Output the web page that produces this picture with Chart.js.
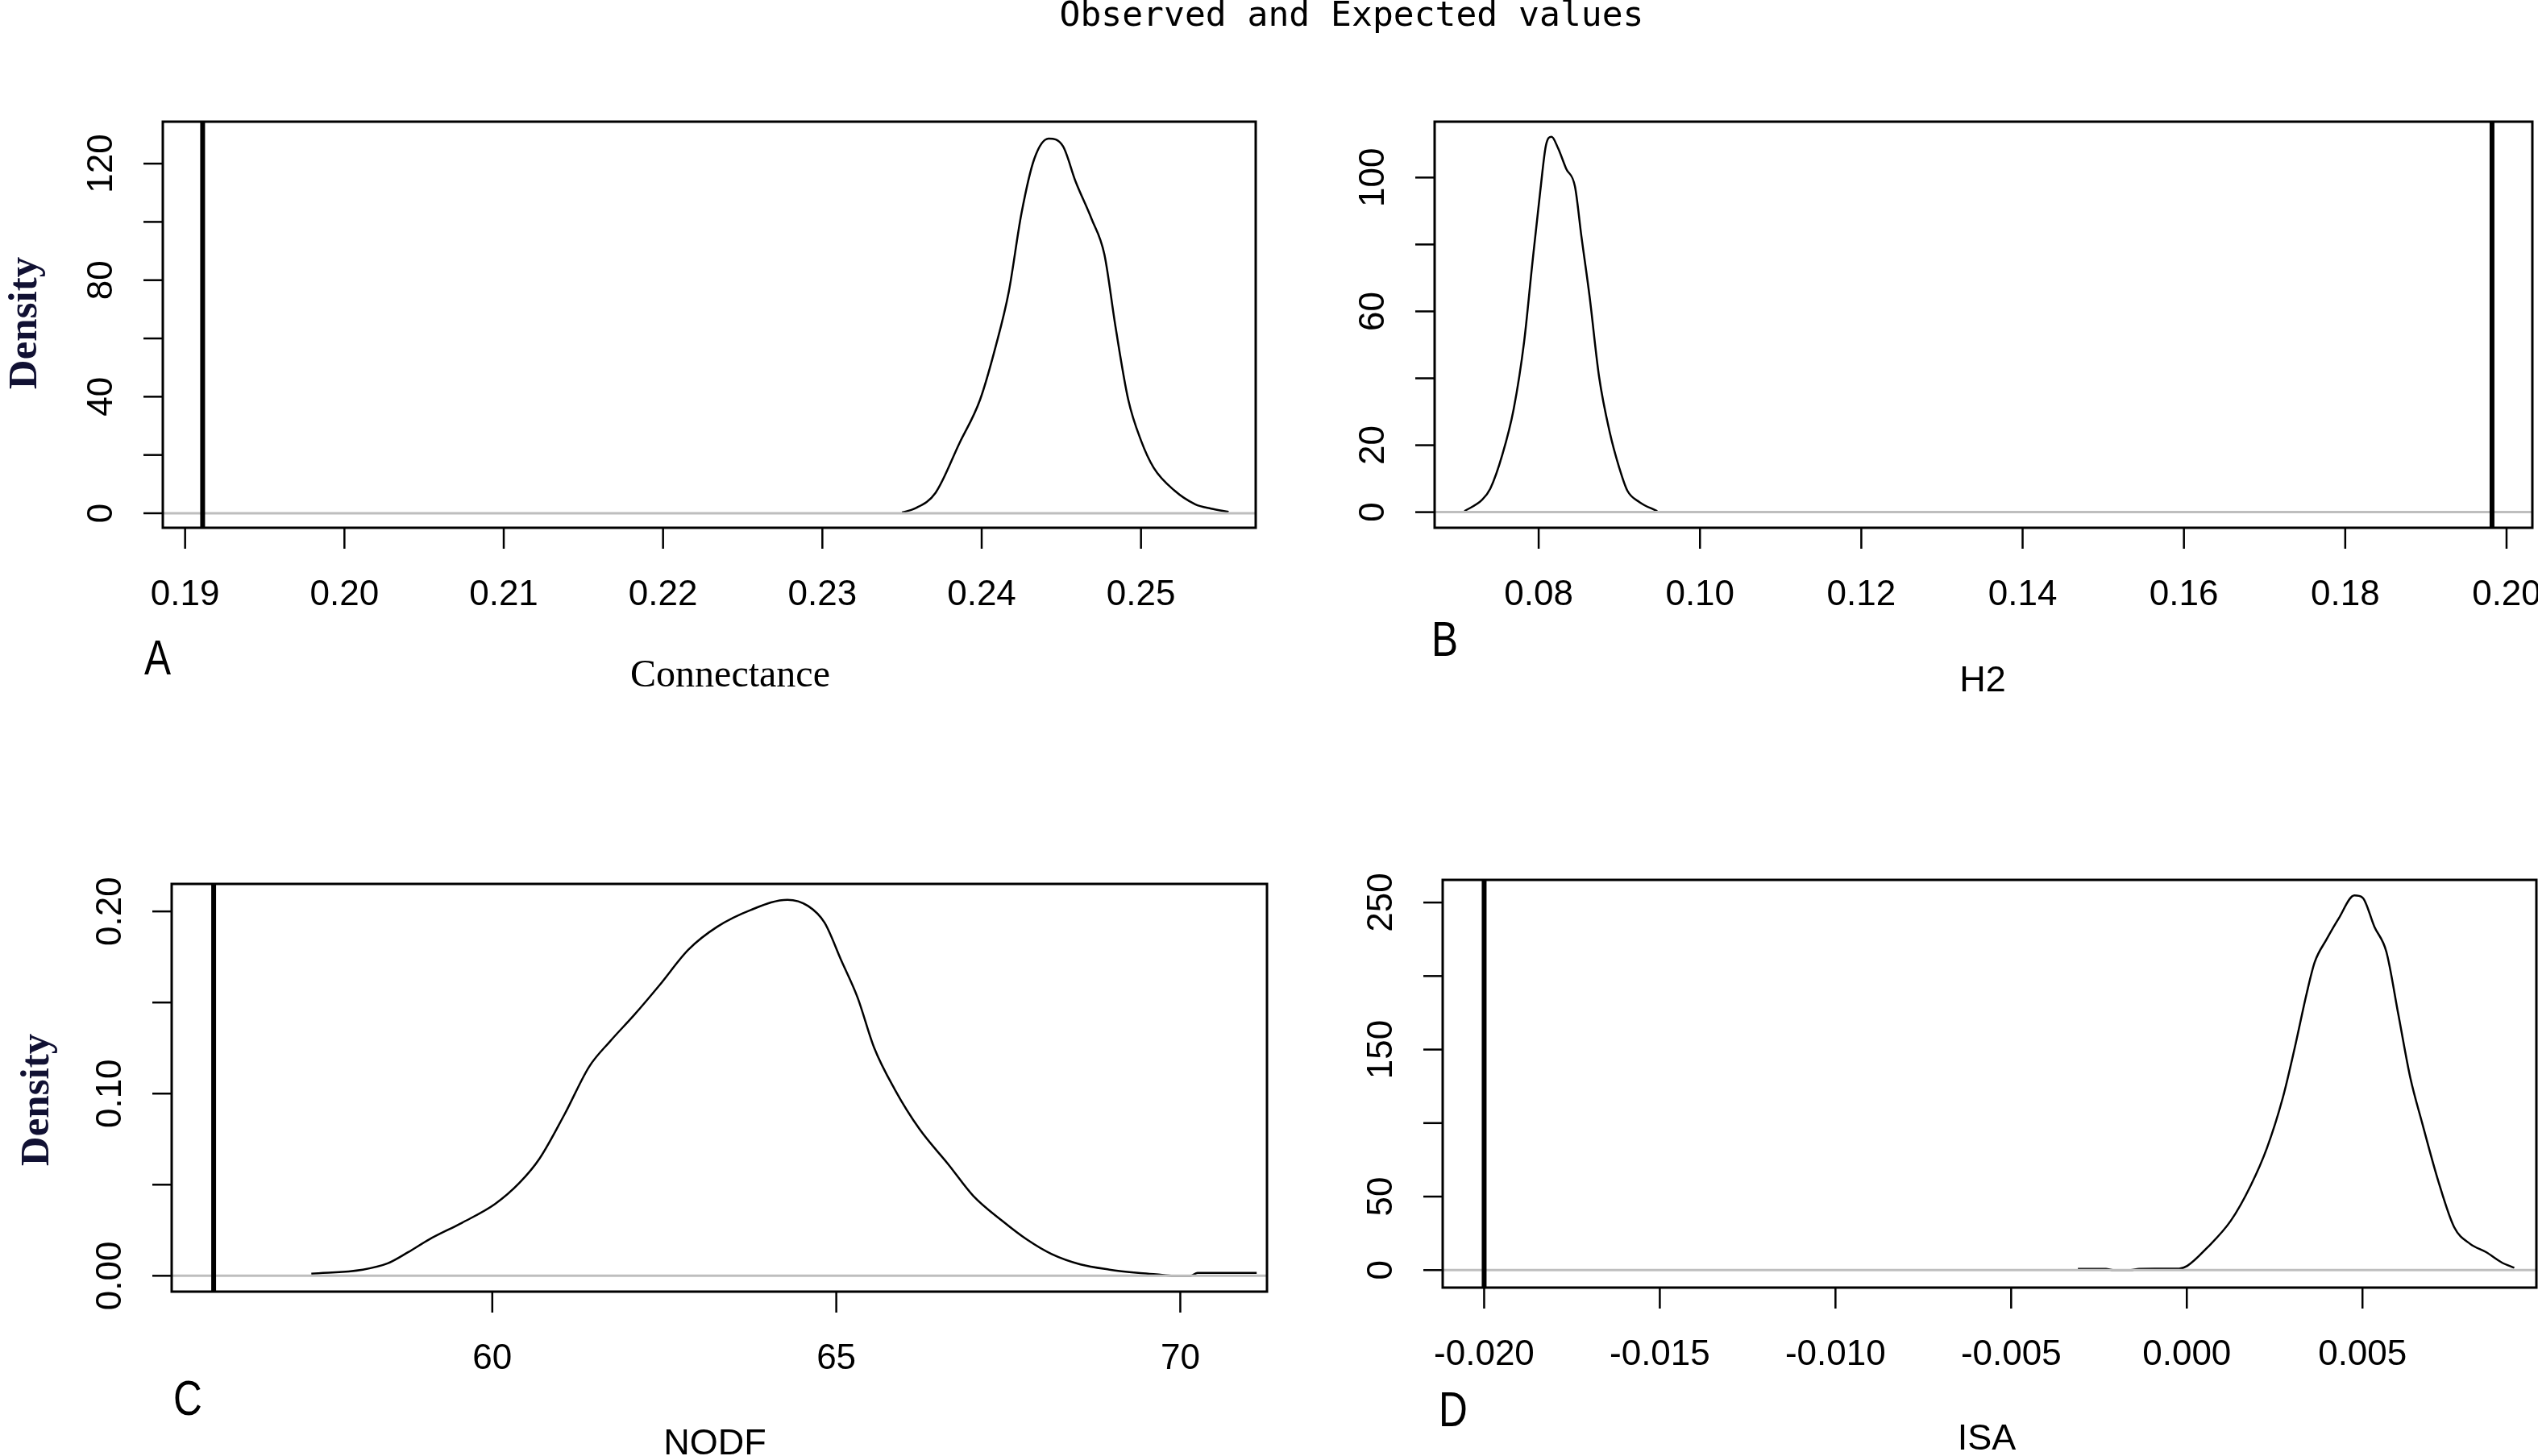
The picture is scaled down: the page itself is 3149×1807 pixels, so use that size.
<!DOCTYPE html>
<html>
<head>
<meta charset="utf-8">
<script src="https://cdn.jsdelivr.net/npm/chart.js@4.4.1/dist/chart.umd.min.js"></script>
<style>
  html, body { margin: 0; padding: 0; background: #fff; }
  #wrap { position: relative; width: 3149px; height: 1807px; overflow: hidden; background: #fff; }
  canvas { position: absolute; left: 0; top: 0; }
</style>
</head>
<body>
<div id="wrap">
  <canvas id="cA" width="3149" height="1807"></canvas>
  <canvas id="cB" width="3149" height="1807"></canvas>
  <canvas id="cC" width="3149" height="1807"></canvas>
  <canvas id="cD" width="3149" height="1807"></canvas>
</div>
<script>

// A - Connectance
const connX = [0.2350, 0.2358, 0.2371, 0.2386, 0.2399, 0.2409, 0.2417, 0.2425, 0.2433, 0.2442, 0.2451,
               0.2459, 0.2469, 0.2477, 0.2484, 0.2492, 0.2500, 0.2508, 0.2521, 0.2534, 0.2544, 0.2555];
const connY = [0.3, 1.6, 7, 24, 39, 57.7, 76, 103, 121.6, 128.6, 126,
               113.8, 101, 88.9, 64, 39, 25, 15.6, 7.8, 3.1, 1.6, 0.5];
const connObs = 0.1911;
const connXTicks = [0.19, 0.20, 0.21, 0.22, 0.23, 0.24, 0.25];
const connXLabels = ['0.19', '0.20', '0.21', '0.22', '0.23', '0.24', '0.25'];
const connYTicks = [0, 20, 40, 60, 80, 100, 120];
const connYLabels = ['0', '', '40', '', '80', '', '120'];

// B - H2
const h2X = [0.0708, 0.0730, 0.0740, 0.0755, 0.0769, 0.0782, 0.0792, 0.0802, 0.0809, 0.0816, 0.0824,
             0.0834, 0.0845, 0.0853, 0.0863, 0.0875, 0.0888, 0.0900, 0.0910, 0.0925, 0.0947];
const h2Y = [0.3, 3.7, 7, 17.2, 30.8, 51, 74, 96, 109.6, 112.2, 108.8,
             102.7, 97.3, 82.4, 64.7, 40.3, 24, 13.2, 6.4, 3, 0.3];
const h2Obs = 0.1982;
const h2XTicks = [0.08, 0.10, 0.12, 0.14, 0.16, 0.18, 0.20];
const h2XLabels = ['0.08', '0.10', '0.12', '0.14', '0.16', '0.18', '0.20'];
const h2YTicks = [0, 20, 40, 60, 80, 100];
const h2YLabels = ['0', '20', '', '60', '', '100'];

// C - NODF
const nodfX = [57.37, 58.12, 58.48, 58.78, 59.08, 59.56, 60.04, 60.39, 60.69, 61.05, 61.41, 61.71, 62.07,
               62.43, 62.85, 63.27, 63.75, 64.29, 64.59, 64.83, 65.07, 65.31, 65.55, 65.85, 66.21,
               66.63, 66.99, 67.41, 67.77, 68.13, 68.55, 68.97, 69.39, 69.65, 69.90, 70.15, 70.25, 71.11];
const nodfY = [0.0011, 0.0034, 0.0068, 0.0130, 0.0199, 0.0291, 0.0394, 0.0508, 0.0645, 0.0886, 0.1149, 0.1286, 0.1435,
               0.1595, 0.1790, 0.1916, 0.2007, 0.2064, 0.2030, 0.1938, 0.1733, 0.1527, 0.1252, 0.1023, 0.0805,
               0.0611, 0.0439, 0.0302, 0.0199, 0.0119, 0.0062, 0.0034, 0.0016, 0.0008, 0, 0, 0.0016, 0.0016];
const nodfObs = 55.95;
const nodfXTicks = [60, 65, 70];
const nodfXLabels = ['60', '65', '70'];
const nodfYTicks = [0, 0.05, 0.10, 0.15, 0.20];
const nodfYLabels = ['0.00', '', '0.10', '', '0.20'];

// D - ISA
const isaX = [-0.0031, -0.0023, -0.0021, -0.0016, -0.00136, -0.00022, 0.00001, 0.00057, 0.00125, 0.00182,
              0.00228, 0.00273, 0.00307, 0.00341, 0.00364, 0.00398, 0.00432, 0.00477, 0.0050, 0.00534,
              0.00568, 0.00602, 0.00636, 0.0067, 0.00716, 0.00761, 0.00806, 0.00852, 0.00897, 0.00932];
const isaY = [0.9, 0.9, 0, 0, 0.9, 1, 2.8, 15, 33.5, 57.6,
              83, 117, 151, 188, 209.4, 225, 239, 254.8, 253.4, 233.5,
              216.5, 174, 131, 100, 60.4, 29.2, 17.9, 12.2, 5.1, 1.6];
const isaObs = -0.0200;
const isaXTicks = [-0.020, -0.015, -0.010, -0.005, 0.000, 0.005];
const isaXLabels = ['-0.020', '-0.015', '-0.010', '-0.005', '0.000', '0.005'];
const isaYTicks = [0, 50, 100, 150, 200, 250];
const isaYLabels = ['0', '50', '', '150', '', '250'];

const W = 3149, H = 1807;
const SANS = '"Liberation Sans", Arial, sans-serif';
const SERIF = '"Liberation Serif", "Times New Roman", serif';

const panels = [
  { id: 'cA', box: [202, 151, 1558, 655], xr: [0.1886, 0.2572], yr: [-4.98, 134.4],
    xs: connX, ys: connY, obs: connObs,
    xTicks: connXTicks, xLabels: connXLabels, yTicks: connYTicks, yLabels: connYLabels,
    name: 'Connectance', nameFont: '48px ' + SERIF, namePos: [906, 852],
    letter: 'A', letterPos: [179, 837], density: [45, 401], mainTitle: true },
  { id: 'cB', box: [1780, 151, 3142, 655], xr: [0.0671, 0.2032], yr: [-4.67, 116.7],
    xs: h2X, ys: h2Y, obs: h2Obs,
    xTicks: h2XTicks, xLabels: h2XLabels, yTicks: h2YTicks, yLabels: h2YLabels,
    name: 'H2', nameFont: '45px ' + SANS, namePos: [2460, 858],
    letter: 'B', letterPos: [1776, 814] },
  { id: 'cC', box: [213, 1097, 1572, 1603], xr: [55.34, 71.26], yr: [-0.0087, 0.2151],
    xs: nodfX, ys: nodfY, obs: nodfObs,
    xTicks: nodfXTicks, xLabels: nodfXLabels, yTicks: nodfYTicks, yLabels: nodfYLabels,
    name: 'NODF', nameFont: '45px ' + SANS, namePos: [887, 1805],
    letter: 'C', letterPos: [215, 1756], density: [60, 1365] },
  { id: 'cD', box: [1790, 1092, 3147, 1598], xr: [-0.02118, 0.00995], yr: [-11.9, 265.4],
    xs: isaX, ys: isaY, obs: isaObs,
    xTicks: isaXTicks, xLabels: isaXLabels, yTicks: isaYTicks, yLabels: isaYLabels,
    name: 'ISA', nameFont: '45px ' + SANS, namePos: [2465, 1799],
    letter: 'D', letterPos: [1785, 1770] }
];

// R-style frame, ticks and labels, drawn from the chart's own scales
function rAxes(p) {
  return {
    id: 'rAxes',
    afterDatasetDraw(chart, args) {
      if (args.index !== 1) return;
      // zero line over the density curve, like plot.density
      const { ctx, chartArea: a, scales } = chart;
      const y0 = scales.y.getPixelForValue(0);
      ctx.save();
      ctx.strokeStyle = '#bebebe';
      ctx.lineWidth = 3;
      ctx.beginPath();
      ctx.moveTo(a.left, y0);
      ctx.lineTo(a.right, y0);
      ctx.stroke();
      ctx.restore();
    },
    afterDraw(chart) {
      const { ctx, chartArea: a, scales } = chart;
      ctx.save();
      ctx.strokeStyle = '#000';
      ctx.fillStyle = '#000';
      ctx.lineWidth = 3;
      ctx.strokeRect(a.left, a.top, a.right - a.left, a.bottom - a.top);

      ctx.lineWidth = 2.5;
      ctx.font = '44px ' + SANS;
      ctx.textAlign = 'center';
      ctx.textBaseline = 'alphabetic';
      p.xTicks.forEach((v, i) => {
        const px = scales.x.getPixelForValue(v);
        ctx.beginPath();
        ctx.moveTo(px, a.bottom);
        ctx.lineTo(px, a.bottom + 26);
        ctx.stroke();
        ctx.fillText(p.xLabels[i], px, a.bottom + 96);
      });
      p.yTicks.forEach((v, i) => {
        const py = scales.y.getPixelForValue(v);
        ctx.beginPath();
        ctx.moveTo(a.left, py);
        ctx.lineTo(a.left - 24, py);
        ctx.stroke();
        if (p.yLabels[i]) {
          ctx.save();
          ctx.translate(a.left - 63, py);
          ctx.rotate(-Math.PI / 2);
          ctx.fillText(p.yLabels[i], 0, 0);
          ctx.restore();
        }
      });

      ctx.font = p.nameFont;
      ctx.fillText(p.name, p.namePos[0], p.namePos[1]);

      ctx.save();
      ctx.translate(p.letterPos[0], p.letterPos[1]);
      ctx.scale(0.8, 1);
      ctx.font = '62px ' + SANS;
      ctx.textAlign = 'left';
      ctx.fillText(p.letter, 0, 0);
      ctx.restore();

      if (p.density) {
        ctx.save();
        ctx.translate(p.density[0], p.density[1]);
        ctx.rotate(-Math.PI / 2);
        ctx.font = 'bold 51px ' + SERIF;
        ctx.fillStyle = '#111133';
        ctx.fillText('Density', 0, 0);
        ctx.restore();
      }

      if (p.mainTitle) {
        ctx.font = '43px "DejaVu Sans Mono", monospace';
        ctx.fillText('Observed and Expected values', 1677, 32);
      }
      ctx.restore();
    }
  };
}

panels.forEach(p => {
  const [l, t, r, b] = p.box;
  new Chart(document.getElementById(p.id), {
    type: 'line',
    data: {
      datasets: [
        {
          label: 'observed',
          data: [{ x: p.obs, y: p.yr[0] }, { x: p.obs, y: p.yr[1] }],
          borderColor: '#000', borderWidth: 6, pointRadius: 0, tension: 0
        },
        {
          label: 'density',
          data: p.xs.map((x, i) => ({ x: x, y: p.ys[i] })),
          borderColor: '#000', borderWidth: 2.5, pointRadius: 0,
          cubicInterpolationMode: 'monotone'
        }
      ]
    },
    options: {
      responsive: false,
      animation: false,
      devicePixelRatio: 1,
      events: [],
      layout: { padding: { left: l, top: t, right: W - r, bottom: H - b } },
      scales: {
        x: { type: 'linear', min: p.xr[0], max: p.xr[1], display: false },
        y: { type: 'linear', min: p.yr[0], max: p.yr[1], display: false }
      },
      plugins: { legend: { display: false }, tooltip: { enabled: false } }
    },
    plugins: [rAxes(p)]
  });
});
</script>
</body>
</html>
